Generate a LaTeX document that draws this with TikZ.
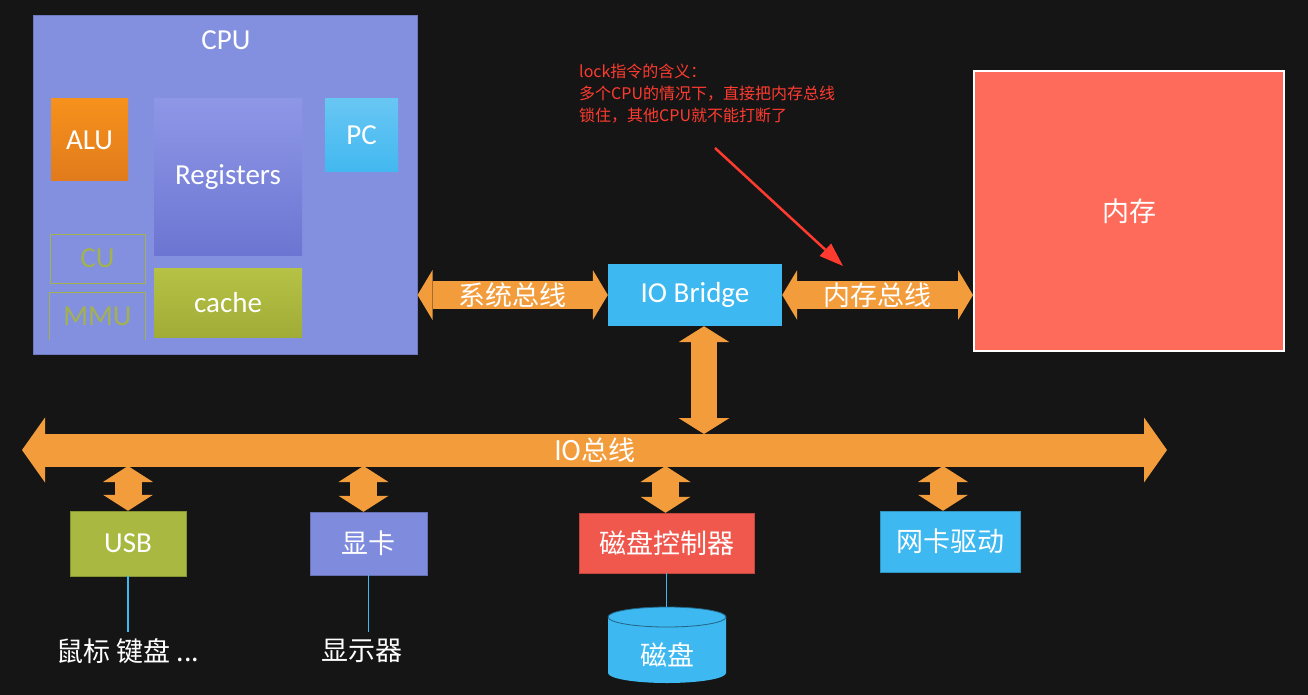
\documentclass[tikz,border=0pt]{standalone}
\usepackage{fontspec}
\setmainfont{Carlito}
\newfontfamily\cjk{Noto Sans CJK SC}
\usetikzlibrary{arrows.meta,calc}
\definecolor{bg}{HTML}{151515}
\definecolor{cpublue}{HTML}{8390E0}
\definecolor{regtop}{HTML}{8E97E6}
\definecolor{regbot}{HTML}{6C76D2}
\definecolor{aluor}{HTML}{F5851F}
\definecolor{pcblue}{HTML}{42B8F0}
\definecolor{olive}{HTML}{B2BF3C}
\definecolor{oliveline}{HTML}{A3B24E}
\definecolor{busor}{HTML}{F39C3C}
\definecolor{memred}{HTML}{FF6B5B}
\definecolor{usbgreen}{HTML}{A8B840}
\definecolor{gpublue}{HTML}{7F8CDD}
\definecolor{diskred}{HTML}{F0584E}
\definecolor{skyblue}{HTML}{3DB8F0}
\definecolor{notered}{HTML}{FF3B30}
\begin{document}
\begin{tikzpicture}[x=1pt,y=-1pt,
  box/.style={inner sep=0pt, text=white, font=\fontsize{29}{30}\selectfont},
  zh/.style={font=\cjk\fontsize{27}{30}\selectfont},
  wtext/.style={text=white, inner sep=0pt},
  bus/.style={draw=busor, line join=miter},
  link/.style={draw=skyblue, line width=1.8pt}]
\fill[bg] (0,0) rectangle (1308,695);
\useasboundingbox (0,0) rectangle (1308,695);

% CPU
\node[box, fill=cpublue, draw=cpublue!85!black, line width=1pt, minimum width=384pt, minimum height=338pt] (cpu) at (225,185) {};
\node[wtext, font=\fontsize{29}{30}\selectfont] (cputxt) at (226,40) {CPU};
\node[box, top color=aluor!90!yellow, bottom color=aluor!92!black, minimum width=77pt, minimum height=82pt] (alu) at (89.5,140) {ALU};
\node[box, top color=regtop, bottom color=regbot, minimum width=148pt, minimum height=156pt] (reg) at (228,177) {Registers};
\node[box, top color=pcblue!80!white, bottom color=pcblue, minimum width=73pt, minimum height=73pt] (pc) at (361.5,135.5) {PC};
\node[box, draw=oliveline, line width=1pt, text=oliveline, minimum width=95pt, minimum height=49pt] (cu) at (97.5,258.5) {CU};
\node[box, text=oliveline, minimum width=95pt, minimum height=47pt] (mmu) at (97.5,316.5) {MMU};
\draw[oliveline, line width=1pt] (mmu.south west) -- (mmu.north west) -- (mmu.north east) -- (mmu.south east);
\node[box, top color=olive!95!white, bottom color=olive!90!black, minimum width=148pt, minimum height=69pt] (cache) at (228,302.5) {cache};

% IO Bridge and memory
\node[box, fill=skyblue, minimum width=174pt, minimum height=62pt] (bridge) at (695,295) {IO Bridge};
\node[box, zh, fill=memred, draw=white, line width=2pt, minimum width=310pt, minimum height=280pt] (mem) at (1129,211) {内存};

% system bus and memory bus
\draw[bus, line width=28pt, {Triangle[length=15pt,width=50pt,line width=0pt]}-{Triangle[length=15pt,width=50pt,line width=0pt]}]
  (cpu.east |- bridge.west) -- (bridge.west)
  node[midway, wtext, zh] (sysbus) {系统总线};
\draw[bus, line width=28pt, {Triangle[length=15pt,width=50pt,line width=0pt]}-{Triangle[length=15pt,width=50pt,line width=0pt]}]
  (bridge.east) -- (mem.west |- bridge.east)
  node[midway, wtext, zh] (membus) {内存总线};

% IO bus
\coordinate (busL) at (22,450);
\coordinate (busR) at (1167,450);
\coordinate (bustop) at (0,434);
\coordinate (busbot) at (0,466);
\draw[bus, line width=33pt, {Triangle[length=23pt,width=65pt,line width=0pt]}-{Triangle[length=23pt,width=65pt,line width=0pt]}]
  (busL) -- (busR);
\node[wtext, zh] (iobus) at (595,450) {IO总线};

% Bridge to IO bus
\coordinate (brdown) at ($(bridge.south)+(9,0)$);
\draw[bus, line width=26pt, {Triangle[length=16pt,width=51pt,line width=0pt]}-{Triangle[length=16pt,width=51pt,line width=0pt]}]
  (brdown) -- (brdown |- bustop);

% Devices
\node[box, fill=usbgreen, draw=usbgreen!80!black, minimum width=116pt, minimum height=65pt] (usb) at (128,543.5) {USB};
\node[box, zh, fill=gpublue, draw=gpublue!80!black, minimum width=117pt, minimum height=63pt] (gpu) at (368.5,543.5) {显卡};
\node[box, zh, fill=diskred, draw=diskred!80!black, minimum width=175pt, minimum height=60pt] (diskctl) at (666.5,543) {磁盘控制器};
\node[box, zh, fill=skyblue, draw=skyblue!80!black, minimum width=140pt, minimum height=61pt] (nic) at (950,541.5) {网卡驱动};

\foreach \d/\dx in {usb/0, gpu/-5, diskctl/-1, nic/-7}{
  \coordinate (\d top) at ($(\d.north)+(\dx,0)$);
  \draw[bus, line width=27pt, {Triangle[length=16pt,width=50pt,line width=0pt]}-{Triangle[length=16pt,width=50pt,line width=0pt]}]
    (\d top) -- (\d top |- busbot);
}

% peripherals
\node[wtext, zh] (mouse) at (128,651) {鼠标 键盘 ...};
\node[wtext, zh] (display) at (362,651) {显示器};
\draw[link] (usb.south) -- (usb.south |- 0,632);
\draw[link] (gpu.south) -- (gpu.south |- 0,632);

% disk cylinder
\fill[skyblue] (608,617) -- (608,673) arc[start angle=180, end angle=0, x radius=59, y radius=10]
  -- (726,617) arc[start angle=0, end angle=-180, x radius=59, y radius=10] -- cycle;
\draw[skyblue!55!black, line width=0.8pt] (667,617) ellipse[x radius=59, y radius=10];
\node[wtext, zh] (disk) at (667,655) {磁盘};
\draw[link, line width=1.5pt] (diskctl.south) -- (diskctl.south |- 0,607);

% annotation
\node[anchor=north west, align=left, inner sep=0pt, text=notered, font=\cjk\fontsize{16}{22}\selectfont] (note) at (579,64)
  {lock指令的含义：\\多个CPU的情况下，直接把内存总线\\锁住，其他CPU就不能打断了};
\coordinate (lockfrom) at (715,148);
\coordinate (lockto) at (843,266);
\draw[notered, line width=2.5pt, -{Triangle[length=24pt,width=17pt,line width=0pt]}] (lockfrom) -- (lockto);
\end{tikzpicture}
\end{document}
